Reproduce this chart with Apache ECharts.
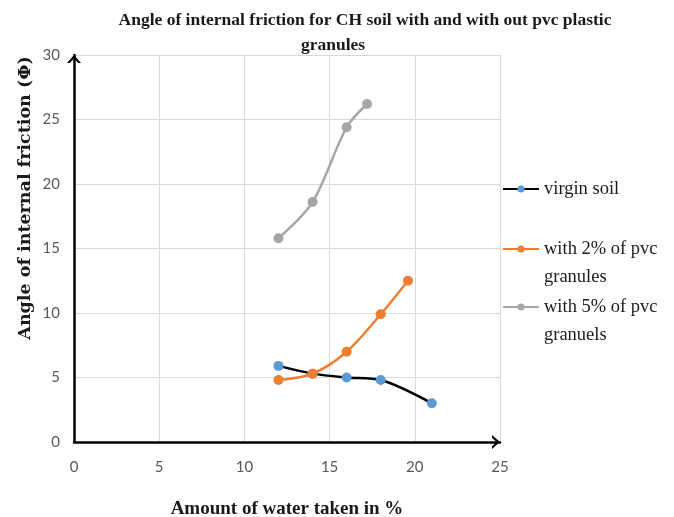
<!DOCTYPE html>
<html>
<head>
<meta charset="utf-8">
<script src="https://cdn.jsdelivr.net/npm/echarts@6/dist/echarts.min.js"></script>
<style>
  html, body { margin: 0; padding: 0; background: #fff; }
  #chart { width: 674px; height: 517px; }
</style>
</head>
<body>
<div id="chart"></div>
<script>
    // values
    var seriesNames = ['virgin soil', 'with 2% of pvc\ngranules', 'with 5% of pvc\ngranuels'];
    var waterVirgin = [12, 14, 16, 18, 21];
    var phiVirgin = [5.9, 5.3, 5.0, 4.8, 3.0];
    var water2 = [12, 14, 16, 18, 19.6];
    var phi2 = [4.8, 5.3, 7.0, 9.9, 12.5];
    var water5 = [12, 14, 16, 17.2];
    var phi5 = [15.8, 18.6, 24.4, 26.2];
    var xTicks = [0, 5, 10, 15, 20, 25];
    var yTicks = [0, 5, 10, 15, 20, 25, 30];

    function pairs(xs, ys) {
        var out = [];
        xs.forEach(function (x, i) {
            out.push([x, ys[i]]);
        });
        return out;
    }

    var serif = 'Liberation Serif';
    var chevron = 'path://M0,8 L7,0 L14,8 L11.2,8 L7,3.4 L2.8,8 Z';

    var chart = echarts.init(document.getElementById('chart'));

    function makeLegend(name, top) {
        return {
            left: 502,
            top: top,
            padding: 0,
            itemWidth: 36,
            itemHeight: 9,
            data: [name],
            // blank first line keeps the icon next to the first text line
            formatter: function (n) {
                return n.indexOf('\n') >= 0 ? ' \n' + n : n;
            },
            textStyle: {
                fontFamily: serif,
                fontSize: 18.5,
                color: '#1a1a1a',
                lineHeight: 28
            }
        };
    }

    var titleStyle = {fontFamily: serif, fontWeight: 'bold', fontSize: 17.5, color: '#1a1a1a'};

    chart.setOption({
        animation: false,
        title: [
            {
                text: 'Angle of internal friction for CH soil with and with out pvc plastic',
                left: 360,
                top: 6,
                textAlign: 'center',
                textStyle: titleStyle
            },
            {
                text: 'granules',
                left: 328,
                top: 31,
                textAlign: 'center',
                textStyle: titleStyle
            }
        ],
        graphic: [{
            type: 'text',
            x: 25,
            y: 198,
            rotation: Math.PI / 2,
            style: {
                text: 'Angle of internal friction (\u03A6)',
                fontFamily: 'DejaVu Serif',
                fontWeight: 'bold',
                fontSize: 17.5,
                fill: '#1a1a1a',
                align: 'center',
                verticalAlign: 'middle'
            }
        }],
        legend: [
            makeLegend(seriesNames[0], 175),
            makeLegend(seriesNames[1], 207),
            makeLegend(seriesNames[2], 265)
        ],
        grid: {
            left: 74,
            right: 174,
            top: 55,
            bottom: 75,
            outerBoundsMode: 'none'
        },
        xAxis: {
            type: 'value',
            min: xTicks[0],
            max: xTicks[xTicks.length - 1],
            interval: 5,
            name: 'Amount of water taken in %',
            nameLocation: 'middle',
            nameGap: 58,
            nameTextStyle: {fontFamily: serif, fontWeight: 'bold', fontSize: 19, color: '#1a1a1a'},
            axisLine: {
                lineStyle: {color: '#000', width: 2.5},
                symbol: ['none', chevron],
                symbolSize: [14, 8],
                symbolOffset: [0, -4]
            },
            axisTick: {show: false},
            axisLabel: {margin: 18, fontFamily: 'Lato', fontSize: 15, color: '#595959'},
            splitLine: {lineStyle: {color: '#d9d9d9', width: 1}}
        },
        yAxis: {
            type: 'value',
            min: yTicks[0],
            max: yTicks[yTicks.length - 1],
            interval: 5,
            axisLine: {
                show: true,
                lineStyle: {color: '#000', width: 2.5},
                symbol: ['none', chevron],
                symbolSize: [14, 8],
                symbolOffset: [0, -4]
            },
            axisTick: {show: false},
            axisLabel: {margin: 14, fontFamily: 'Lato', fontSize: 15, color: '#595959'},
            splitLine: {lineStyle: {color: '#d9d9d9', width: 1}}
        },
        series: [
            {
                name: seriesNames[0],
                type: 'line',
                smooth: 0.3,
                symbol: 'circle',
                symbolSize: 10,
                lineStyle: {color: '#000', width: 2.5},
                itemStyle: {color: '#5b9bd5'},
                data: pairs(waterVirgin, phiVirgin)
            },
            {
                name: seriesNames[1],
                type: 'line',
                smooth: 0.3,
                symbol: 'circle',
                symbolSize: 10,
                lineStyle: {color: '#ed7d31', width: 2.5},
                itemStyle: {color: '#ed7d31'},
                data: pairs(water2, phi2)
            },
            {
                name: seriesNames[2],
                type: 'line',
                smooth: 0.3,
                symbol: 'circle',
                symbolSize: 10,
                lineStyle: {color: '#a5a5a5', width: 2.5},
                itemStyle: {color: '#a5a5a5'},
                data: pairs(water5, phi5)
            }
        ]
    });
</script>
</body>
</html>
